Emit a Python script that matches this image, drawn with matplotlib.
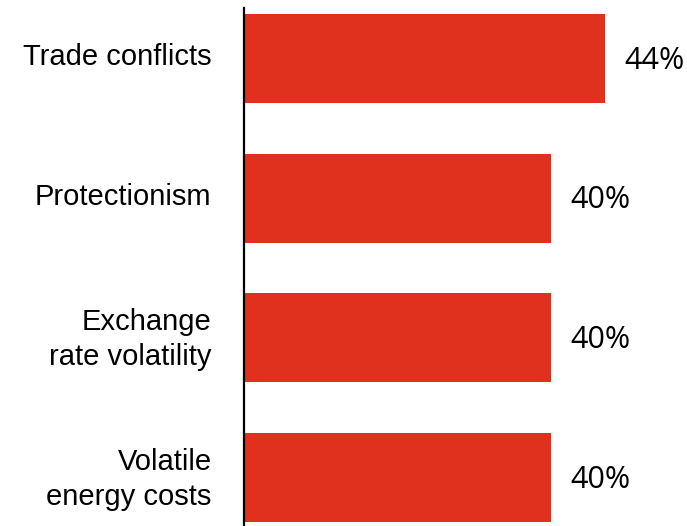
import matplotlib
matplotlib.use("Agg")
import matplotlib.pyplot as plt
import matplotlib.transforms as mtransforms

# data
categories = ["Trade conflicts", "Protectionism", "Exchange\nrate volatility", "Volatile\nenergy costs"]
values = [44, 40, 40, 40]
value_labels = ["44%", "40%", "40%", "40%"]

bar_color = "#E0301E"

fig = plt.figure(figsize=(6.87, 5.26), dpi=100)
ax = fig.add_axes([243.5 / 687, 0.0, 1 - 243.5 / 687, 1 - 8 / 526])

ypos = list(range(len(categories)))
ax.barh(ypos, values, height=0.637, color=bar_color, left=0)

# bars in the original start well above zero on the axis
ax.set_xlim(17.2, 50.1)
ax.set_ylim(3.347, -0.362)

ax.set_yticks(ypos)
ax.set_yticklabels(categories, fontsize=21, family="Liberation Sans",
                   ha="right", linespacing=1.3)
ax.tick_params(axis="y", length=0, pad=23)
ax.set_xticks([])

# labels sit a little above the bar centre in the original
shift = mtransforms.ScaledTranslation(0, 4.5 / 100, fig.dpi_scale_trans)
for lbl in ax.get_yticklabels():
    lbl.set_transform(lbl.get_transform() + shift)

for s in ["top", "right", "bottom"]:
    ax.spines[s].set_visible(False)
ax.spines["left"].set_linewidth(1.6)
ax.spines["left"].set_color("black")

for y, v, lab in zip(ypos, values, value_labels):
    ax.annotate(lab, xy=(v, y), xytext=(14.4, -1.5), textcoords="offset points",
                ha="left", va="center", fontsize=22, family="Open Sans",
                fontweight="normal", color="black")

fig.savefig("out.png", dpi=100)
